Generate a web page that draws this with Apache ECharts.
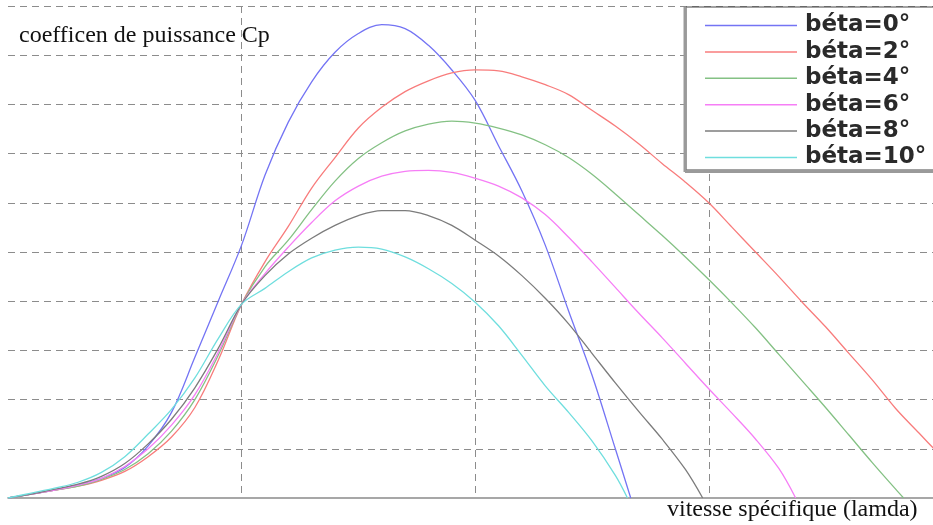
<!DOCTYPE html>
<html>
<head>
<meta charset="utf-8">
<script src="https://cdn.jsdelivr.net/npm/echarts@6/dist/echarts.min.js"></script>
<style>html,body{margin:0;padding:0;background:#fff;}#c{width:933px;height:525px;}</style>
</head>
<body>
<div id="c"></div>
<script>
// series names
const seriesNames = ['béta=0°', 'béta=2°', 'béta=4°', 'béta=6°', 'béta=8°', 'béta=10°'];
const seriesColors = ['#7474f4', '#f87c7c', '#84c184', '#f67ef6', '#7c7c7c', '#6fdede'];

// [lambda, Cp] pairs
const beta0 = [[0,0],[0.5,0.004],[1,0.008],[1.5,0.013],[2,0.02],[2.5,0.031],[3,0.053],[3.5,0.087],[4,0.143],[4.5,0.2],[5,0.257],[5.5,0.328],[6,0.382],[6.5,0.423],[7,0.453],[7.5,0.472],[8,0.481],[8.5,0.477],[9,0.46],[9.5,0.435],[10,0.404],[10.5,0.358],[11,0.312],[11.5,0.257],[12,0.19],[12.5,0.125],[13,0.05],[13.33,0]];
const beta2 = [[0,0],[0.5,0.004],[1,0.008],[1.5,0.012],[2,0.018],[2.5,0.027],[3,0.042],[3.5,0.062],[4,0.092],[4.5,0.14],[5,0.197],[5.5,0.24],[6,0.276],[6.5,0.315],[7,0.346],[7.5,0.376],[8,0.397],[8.5,0.413],[9,0.424],[9.5,0.432],[10,0.435],[10.5,0.434],[11,0.428],[11.5,0.42],[12,0.41],[12.5,0.394],[13,0.378],[13.5,0.36],[14,0.34],[14.5,0.321],[15,0.3],[15.5,0.275],[16,0.25],[16.5,0.225],[17,0.199],[17.5,0.174],[18,0.147],[18.5,0.12],[19,0.091],[19.5,0.066],[20,0.041]];
const beta4 = [[0,0],[0.5,0.004],[1,0.008],[1.5,0.012],[2,0.019],[2.5,0.029],[3,0.045],[3.5,0.068],[4,0.1],[4.5,0.145],[5,0.197],[5.5,0.235],[6,0.262],[6.5,0.293],[7,0.322],[7.5,0.345],[8,0.361],[8.5,0.373],[9,0.38],[9.5,0.383],[10,0.381],[10.5,0.376],[11,0.369],[11.5,0.359],[12,0.346],[12.5,0.329],[13,0.309],[13.5,0.288],[14,0.267],[14.5,0.245],[15,0.222],[15.5,0.198],[16,0.173],[16.5,0.146],[17,0.119],[17.5,0.092],[18,0.064],[18.5,0.036],[19,0.009],[19.17,0]];
const beta6 = [[0,0],[0.5,0.004],[1,0.008],[1.5,0.013],[2,0.02],[2.5,0.032],[3,0.05],[3.5,0.074],[4,0.105],[4.5,0.148],[5,0.197],[5.5,0.228],[6,0.255],[6.5,0.28],[7,0.302],[7.5,0.317],[8,0.327],[8.5,0.332],[9,0.333],[9.5,0.331],[10,0.325],[10.5,0.317],[11,0.305],[11.5,0.288],[12,0.265],[12.5,0.24],[13,0.214],[13.5,0.188],[14,0.163],[14.5,0.137],[15,0.111],[15.5,0.086],[16,0.06],[16.5,0.03],[16.86,0]];
const beta8 = [[0,0],[0.5,0.004],[1,0.009],[1.5,0.014],[2,0.022],[2.5,0.035],[3,0.055],[3.5,0.08],[4,0.112],[4.5,0.152],[5,0.197],[5.5,0.226],[6,0.248],[6.5,0.264],[7,0.277],[7.5,0.287],[8,0.292],[8.5,0.292],[9,0.287],[9.5,0.277],[10,0.262],[10.5,0.246],[11,0.226],[11.5,0.203],[12,0.177],[12.5,0.147],[13,0.117],[13.5,0.088],[14,0.06],[14.5,0.029],[14.87,0]];
const beta10 = [[0,0],[0.5,0.005],[1,0.01],[1.5,0.016],[2,0.026],[2.5,0.042],[3,0.065],[3.5,0.09],[4,0.122],[4.5,0.162],[5,0.197],[5.5,0.213],[6,0.23],[6.5,0.244],[7,0.252],[7.5,0.255],[8,0.253],[8.5,0.245],[9,0.233],[9.5,0.218],[10,0.199],[10.5,0.175],[11,0.145],[11.5,0.114],[12,0.087],[12.5,0.058],[13,0.023],[13.26,0]];
const allData = [beta0, beta2, beta4, beta6, beta8, beta10];

// axis settings (the reference is cropped on the right, near lambda = 19.8)
const xMin = 0, xMax = 19.8, xStep = 5;
const yMin = 0, yMax = 0.5, yStep = 0.05;

const chart = echarts.init(document.getElementById('c'), null, {renderer: 'canvas'});
const gridStyle = {show: true, lineStyle: {color: '#8c8c8c', type: [7, 5], width: 1}};
chart.setOption({
  animation: false,
  backgroundColor: '#ffffff',
  title: [
    {text: 'coefficen de puissance Cp', left: 19, top: 24, padding: 0,
     textStyle: {fontFamily: 'Liberation Serif', fontSize: 24, fontWeight: 'normal', color: '#111'}},
    {text: 'vitesse spécifique (lamda)', left: 667, top: 498, padding: 0,
     textStyle: {fontFamily: 'Liberation Serif', fontSize: 24, fontWeight: 'normal', color: '#111'}}
  ],
  grid: {left: 8, right: 0, top: 6, height: 492, containLabel: false},
  xAxis: {
    type: 'value', min: xMin, max: xMax, interval: xStep,
    axisLine: {show: true, lineStyle: {color: '#8a8a8a', width: 1.5}},
    axisTick: {show: false}, axisLabel: {show: false},
    splitLine: Object.assign({showMinLine: false, showMaxLine: false}, gridStyle)
  },
  yAxis: {
    type: 'value', min: yMin, max: yMax, interval: yStep,
    axisLine: {show: false}, axisTick: {show: false}, axisLabel: {show: false},
    splitLine: Object.assign({showMinLine: false, showMaxLine: true}, gridStyle)
  },
  graphic: [
    {type: 'rect', z: 90, shape: {x: 686, y: 7, width: 260, height: 163},
     style: {fill: '#fff', stroke: '#444', lineWidth: 1}},
    {type: 'line', z: 91, shape: {x1: 685, y1: 7, x2: 685, y2: 172}, style: {stroke: '#9a9a9a', lineWidth: 3}},
    {type: 'line', z: 91, shape: {x1: 685, y1: 171.5, x2: 940, y2: 171.5}, style: {stroke: '#9a9a9a', lineWidth: 3}}
  ],
  legend: {
    orient: 'vertical', left: 705, top: 14, padding: 0, z: 100,
    icon: 'rect', itemWidth: 92, itemHeight: 1.5, itemGap: 3.4,
    data: seriesNames,
    textStyle: {fontFamily: 'DejaVu Sans', fontSize: 23, fontWeight: 'bold', color: '#2a2a2a', padding: [0, 0, 0, 3]}
  },
  series: allData.map((d, i) => ({
    name: seriesNames[i], type: 'line', data: d, smooth: 0.35,
    symbol: 'none', color: seriesColors[i], clip: true,
    lineStyle: {width: 1.3, color: seriesColors[i]}, z: 10 + i
  }))
});
</script>
</body>
</html>
